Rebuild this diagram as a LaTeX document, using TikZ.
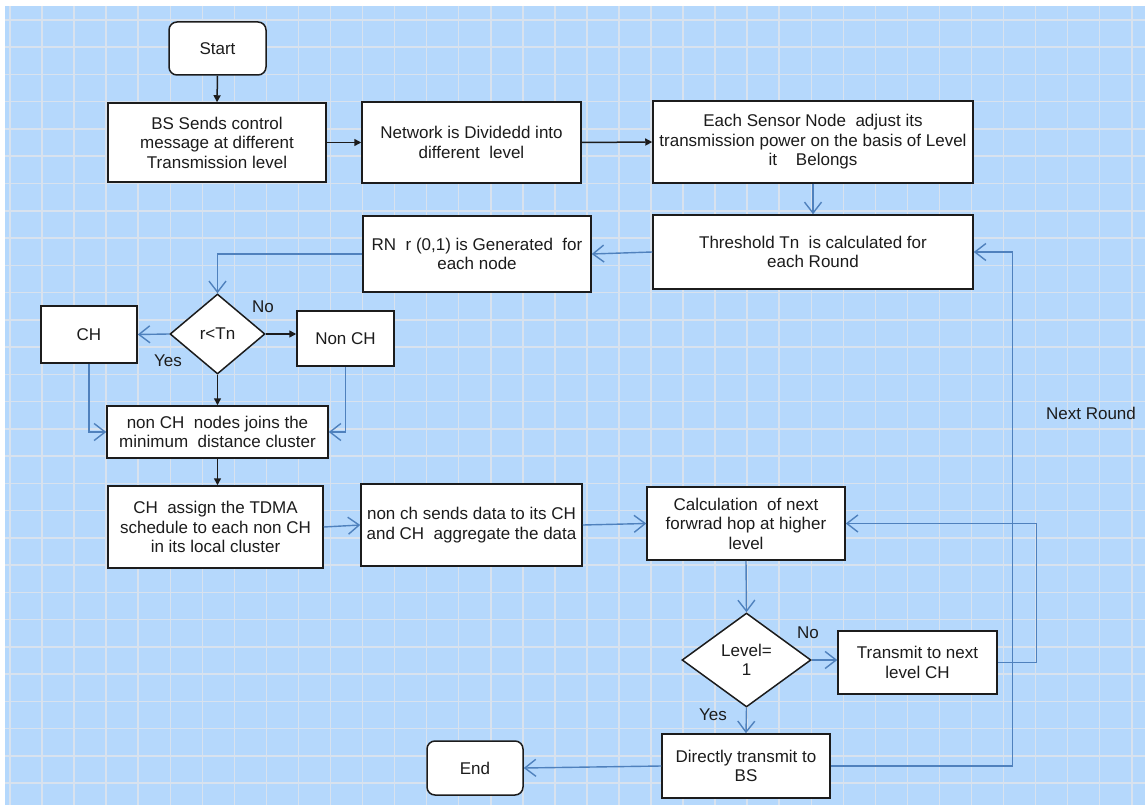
\documentclass[tikz,border=0pt]{standalone}
\usepackage{fontspec}
\setmainfont{Liberation Sans}
\usetikzlibrary{arrows.meta,shapes.geometric}
\definecolor{paper}{RGB}{181,216,252}
\definecolor{gridline}{RGB}{216,226,238}
\definecolor{flowblue}{RGB}{79,129,189}
\definecolor{ink}{RGB}{28,28,28}
\tikzset{
  every node/.style={font=\fontsize{17}{19.5}\selectfont, text=ink},
  box/.style={draw=ink, line width=1.5pt, fill=white, rectangle, inner sep=0pt, align=center},
  terminal/.style={box, rounded corners=8pt},
  decision/.style={draw=ink, line width=1.5pt, fill=white, diamond, inner sep=0pt, align=center},
  blackflow/.style={draw=ink, line width=1.5pt, -{Triangle[length=7pt,width=7pt]}},
  blueflow/.style={draw=flowblue, line width=1.4pt, -{Straight Barb[length=11pt,width=17pt,line width=1.4pt]}},
  blueline/.style={draw=flowblue, line width=1.4pt},
  tag/.style={inner sep=0pt}
}
\begin{document}
\begin{tikzpicture}[x=1pt,y=-1pt]
\useasboundingbox (0,0) rectangle (1145,805);
% graph-paper background
\fill[white] (0,0) rectangle (1145,805);
\fill[paper] (5,6) rectangle (1145,805);
\foreach \i in {0,...,35} {
  \draw[gridline, line width=1.5pt] ({10+32.05*\i},6) -- ({10+32.05*\i},805);
}
\foreach \j in {0,...,28} {
  \draw[gridline, line width=1.5pt] (5,{20+27.25*\j}) -- (1145,{20+27.25*\j});
}

% process steps
\node[terminal, minimum width=97pt, minimum height=53pt] (start) at (217.5,48.5) {Start};
\node[box, minimum width=218pt, minimum height=79pt] (bs) at (217,142.5)
  {BS Sends control\\message at different\\Transmission level};
\node[box, minimum width=219pt, minimum height=81pt] (net) at (471.5,142.5)
  {Network is Dividedd into\\different\ \ level};
\node[box, minimum width=320pt, minimum height=82pt] (each) at (813,142)
  {Each Sensor Node\ \ adjust its\\transmission power on the basis of Level\\it\ \ \ \ Belongs};
\node[box, minimum width=320pt, minimum height=74pt] (thr) at (813,252)
  {Threshold Tn\ \ is calculated for\\each Round};
\node[box, minimum width=228pt, minimum height=76pt] (rn) at (477,254)
  {RN\ \ r (0,1) is Generated\ \ for\\each node};
\node[decision, minimum width=95pt, minimum height=80pt] (dec1) at (217.5,334) {r<Tn};
\node[box, minimum width=96pt, minimum height=57pt] (ch) at (89,334.5) {CH};
\node[box, minimum width=97pt, minimum height=55pt] (nonch) at (345.5,338.5) {Non CH};
\node[box, minimum width=221pt, minimum height=52pt] (join) at (217.5,432)
  {non CH\ \ nodes joins the\\minimum\ \ distance cluster};
\node[box, minimum width=215pt, minimum height=82pt] (tdma) at (215.5,527)
  {CH\ \ assign the TDMA\\schedule to each non CH\\in its local cluster};
\node[box, minimum width=221pt, minimum height=82pt] (agg) at (471.5,525)
  {non ch sends data to its CH\\and CH\ \ aggregate the data};
\node[box, minimum width=198pt, minimum height=73pt] (calc) at (746,523.5)
  {Calculation\ \ of next\\forwrad hop at higher\\level};
\node[decision, minimum width=129pt, minimum height=94pt] (dec2) at (746.5,660) {Level=\\1};
\node[box, minimum width=159pt, minimum height=63pt] (tx) at (917.5,662.5)
  {Transmit to next\\level CH};
\node[box, minimum width=168pt, minimum height=64pt] (direct) at (746,766)
  {Directly transmit to\\BS};
\node[terminal, minimum width=96pt, minimum height=54pt] (end) at (475,768) {End};

% branch labels
\node[tag] (yes1) at (168,361) {Yes};
\node[tag] (no1) at (263,307) {No};
\node[tag] (yes2) at (713,715) {Yes};
\node[tag] (no2) at (808,633) {No};
\node[tag] (nextround) at (1091,413) {Next Round};

% connectors: top row
\draw[blackflow] (start.south) -- (bs.north);
\draw[blackflow] (bs.east) -- (net.west);
\draw[blackflow] (net.east) -- (each.west);
\draw[blueflow] (each.south) -- (thr.north);
\draw[blueflow] (thr.west) -- (rn.east);
\draw[blueflow] (rn.west) -| (dec1.north);

% cluster head election
\draw[blueflow] (dec1.west) -- (ch.east);
\draw[blackflow] (dec1.east) -- (dec1.east -| nonch.west);
\draw[blackflow] (dec1.south) -- (join.north);
\draw[blueflow] (ch.south) |- (join.west);
\draw[blueflow] (nonch.south) |- (join.east);
\draw[blackflow] (join.south) -- (join.south |- tdma.north);

% data phase
\draw[blueflow] (tdma.east) -- (agg.west);
\draw[blueflow] (agg.east) -- (calc.west);
\draw[blueflow] (calc.south) -- (dec2.north);
\draw[blueflow] (dec2.east) -- (dec2.east -| tx.west);
\draw[blueflow] (dec2.south) -- (direct.north);
\draw[blueflow] (direct.west) -- (end.east);
\draw[blueflow] (tx.east) -- ++(39,0) |- (calc.east);
\draw[blueflow] (direct.east) -- ++(182,0) |- (thr.east);
\end{tikzpicture}
\end{document}
